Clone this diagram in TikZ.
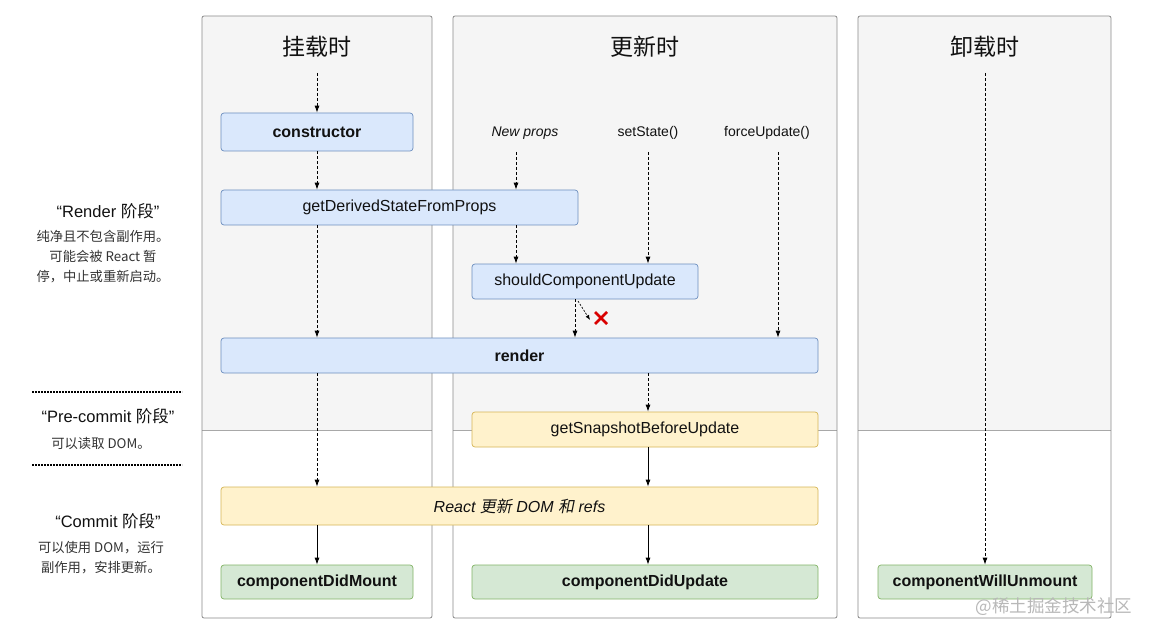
\documentclass[tikz,border=0pt]{standalone}
\usepackage{fontspec}
\setmainfont{Liberation Sans}
\newfontfamily\cjk{Noto Sans CJK SC}
\newfontfamily\cjki{Noto Sans CJK SC}[FakeSlant=0.2]
\usetikzlibrary{arrows.meta}
\definecolor{colbg}{HTML}{F5F5F5}
\definecolor{colframe}{HTML}{8A8A8A}
\definecolor{colline}{HTML}{A8A8A8}
\definecolor{bluefill}{HTML}{DAE8FC}
\definecolor{blueline}{HTML}{6C8EBF}
\definecolor{yelfill}{HTML}{FFF2CC}
\definecolor{yelline}{HTML}{D6B656}
\definecolor{grnfill}{HTML}{D5E8D4}
\definecolor{grnline}{HTML}{82B366}
\definecolor{txt}{HTML}{111111}
\definecolor{side}{HTML}{333333}
\definecolor{wmark}{HTML}{B8B8B8}
\tikzset{
  box/.style={rounded corners=3pt, line width=0.7pt, inner sep=0pt, align=center,
              font=\fontsize{16}{18}\selectfont, text=txt},
  boldtext/.style={font=\bfseries\fontsize{16}{18}\selectfont},
  bluebox/.style={box, fill=bluefill, draw=blueline},
  yelbox/.style={box, fill=yelfill, draw=yelline},
  grnbox/.style={box, fill=grnfill, draw=grnline},
  dasharrow/.style={line width=0.8pt, dash pattern=on 3pt off 2pt, -{Latex[length=7pt,width=5pt]}},
  solidarrow/.style={line width=0.8pt, -{Latex[length=7pt,width=5pt]}},
  title/.style={font=\cjk\fontsize{23}{26}\selectfont, text=txt},
  lbl/.style={font=\fontsize{14}{17}\selectfont, text=txt},
  sidehead/.style={font=\fontsize{16.5}{19}\selectfont, text=txt},
  sidetext/.style={font=\cjk\fontsize{13.3}{20}\selectfont, text=side, align=center},
  sep/.style={line width=1.6pt, dash pattern=on 1.6pt off 1.4pt},
  frame/.style={draw=colframe, line width=0.8pt, rounded corners=2pt},
}
\begin{document}
\begin{tikzpicture}[x=1pt,y=-1pt]
\useasboundingbox (0,0) rectangle (1154,639);
\fill[white] (0,0) rectangle (1154,639);
% columns
\foreach \xa/\xb in {202/432, 453/837, 858/1111}{
  \fill[colbg] (\xa,16) rectangle (\xb,430);
  \draw[colline, line width=0.8pt] (\xa,430) -- (\xb,430);
  \draw[frame] (\xa,16) rectangle (\xb,618);
}
% titles
\node[title] (tmount) at (317,47) {挂载时};
\node[title] (tupdate) at (645,47) {更新时};
\node[title] (tunmount) at (985,47) {卸载时};
% nodes
\node[bluebox, boldtext, minimum width=192pt, minimum height=38pt] (ctor) at (317,132) {constructor};
\node[bluebox, minimum width=357pt, minimum height=35pt] (gdsfp) at (399.5,207.5) {getDerivedStateFromProps};
\node[bluebox, minimum width=226pt, minimum height=35pt] (scu) at (585,281.5) {shouldComponentUpdate};
\node[bluebox, boldtext, minimum width=597pt, minimum height=35pt] (render) at (519.5,355.5) {render};
\node[yelbox, minimum width=346pt, minimum height=35pt] (gsbu) at (645,429.5) {getSnapshotBeforeUpdate};
\node[yelbox, minimum width=597pt, minimum height=38pt] (rdom) at (519.5,506) {\itshape React {\cjki 更新} DOM {\cjki 和} refs};
\node[grnbox, boldtext, minimum width=192pt, minimum height=34pt] (cdm) at (317,582) {componentDidMount};
\node[grnbox, boldtext, minimum width=346pt, minimum height=34pt] (cdu) at (645,582) {componentDidUpdate};
\node[grnbox, boldtext, minimum width=214pt, minimum height=34pt] (cwu) at (985,582) {componentWillUnmount};
% update triggers
\node[lbl, font=\itshape\fontsize{14}{17}\selectfont] (newprops) at (525,133) {New props};
\node[lbl] (setstate) at (648,133) {setState()};
\node[lbl] (force) at (767,133) {forceUpdate()};
% start coordinates
\coordinate (m0) at (317,73);
\coordinate (u0) at (985,73);
\coordinate (np0) at (516,152);
\coordinate (ss0) at (648,152);
\coordinate (fu0) at (778,152);
\coordinate (sx) at (575,0);
\coordinate (gx) at (648,0);
\coordinate (xa) at (578,301);
\coordinate (xb) at (590,320);
% mount column arrows
\draw[dasharrow] (m0) -- (ctor.north);
\draw[dasharrow] (ctor.south) -- (ctor.south |- gdsfp.north);
\draw[dasharrow] (ctor.south |- gdsfp.south) -- (ctor.south |- render.north);
\draw[dasharrow] (ctor.south |- render.south) -- (ctor.south |- rdom.north);
\draw[solidarrow] (ctor.south |- rdom.south) -- (cdm.north);
% update column arrows
\draw[dasharrow] (np0) -- (np0 |- gdsfp.north);
\draw[dasharrow] (np0 |- gdsfp.south) -- (np0 |- scu.north);
\draw[dasharrow] (ss0) -- (ss0 |- scu.north);
\draw[dasharrow] (fu0) -- (fu0 |- render.north);
\draw[dasharrow] (sx |- scu.south) -- (sx |- render.north);
\draw[line width=0.7pt, dash pattern=on 2pt off 1.5pt, -{Latex[length=5pt,width=4pt]}] (xa) -- (xb);
\draw[red!85!black, line width=2.6pt] (595,312) -- (607,324) (607,312) -- (595,324);
\draw[dasharrow] (gx |- render.south) -- (gx |- gsbu.north);
\draw[solidarrow] (gx |- gsbu.south) -- (gx |- rdom.north);
\draw[solidarrow] (gx |- rdom.south) -- (gx |- cdu.north);
% unmount arrow
\draw[dasharrow] (u0) -- (cwu.north);
% side texts
\node[sidehead] (h1) at (108,211) {“Render {\cjk 阶段}”};
\node[sidetext] (s1) at (103,257) {纯净且不包含副作用。\\ 可能会被 React 暂\\停，中止或重新启动。};
\coordinate (d1a) at (32,392);
\coordinate (d1b) at (182,392);
\draw[sep] (d1a) -- (d1b);
\node[sidehead] (h2) at (108,416) {“Pre-commit {\cjk 阶段}”};
\node[sidetext] (s2) at (101,443) {可以读取 DOM。};
\coordinate (d2a) at (32,465);
\coordinate (d2b) at (182,465);
\draw[sep] (d2a) -- (d2b);
\node[sidehead] (h3) at (108,521) {“Commit {\cjk 阶段}”};
\node[sidetext] (s3) at (101,558) {可以使用 DOM，运行\\副作用，安排更新。};
% watermark
\node[font=\cjk\fontsize{17.5}{19}\selectfont, text=wmark] (wm) at (1054,607) {@稀土掘金技术社区};
\end{tikzpicture}
\end{document}
